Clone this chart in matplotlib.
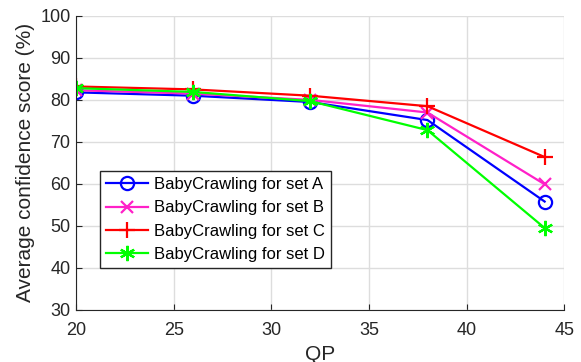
import matplotlib.pyplot as plt

plt.rcParams['font.family'] = ['Liberation Sans', 'DejaVu Sans']

# data
qp = [20, 26, 32, 38, 44]
set_a = [81.8, 81.0, 79.5, 75.2, 55.8]
set_b = [82.3, 81.5, 80.0, 77.0, 59.9]
set_c = [83.2, 82.5, 81.0, 78.5, 66.4]
set_d = [82.8, 81.9, 79.7, 72.8, 49.5]
labels = ['BabyCrawling for set A', 'BabyCrawling for set B',
          'BabyCrawling for set C', 'BabyCrawling for set D']

fig = plt.figure(figsize=(5.81, 3.62), dpi=100)
ax = fig.add_axes([0.131, 0.144, 0.840, 0.812])

ax.plot(qp, set_a, color='#0000ff', marker='o', markersize=9.5, markerfacecolor='none',
        markeredgewidth=1.6, linewidth=1.6, label=labels[0])
ax.plot(qp, set_b, color='#ff20c8', marker='x', markersize=9, markeredgewidth=1.6,
        linewidth=1.6, label=labels[1])
ax.plot(qp, set_c, color='#ff0000', marker='+', markersize=12, markeredgewidth=1.6,
        linewidth=1.6, label=labels[2])
ax.plot(qp, set_d, color='#00ff00', marker=(6, 2, 0), markersize=11, markeredgewidth=1.6,
        linewidth=1.6, label=labels[3])

ax.set_xlim(20, 45)
ax.set_ylim(30, 100)
ax.set_xticks([20, 25, 30, 35, 40, 45])
ax.set_yticks(range(30, 101, 10))
ax.grid(True, color='#dddddd', linewidth=1.0)
ax.set_axisbelow(True)
for s in ['top', 'right']:
    ax.spines[s].set_visible(False)
for s in ['left', 'bottom']:
    ax.spines[s].set_color('#262626')
ax.tick_params(direction='in', length=4, labelsize=13, colors='#262626', pad=4)
ax.tick_params(axis='x', pad=9)
ax.set_xlabel('QP', fontsize=15, color='#262626', labelpad=4)
ax.set_ylabel('Average confidence score (%)', fontsize=15, color='#262626', labelpad=4)

leg = ax.legend(loc='lower left', bbox_to_anchor=(0.049, 0.143), fontsize=12,
                fancybox=False, framealpha=1, edgecolor='#262626',
                handlelength=2.5, borderpad=0.35, labelspacing=0.5, handletextpad=0.4,
                borderaxespad=0)
leg.get_frame().set_linewidth(1.0)

fig.savefig('out.png', dpi=100)
